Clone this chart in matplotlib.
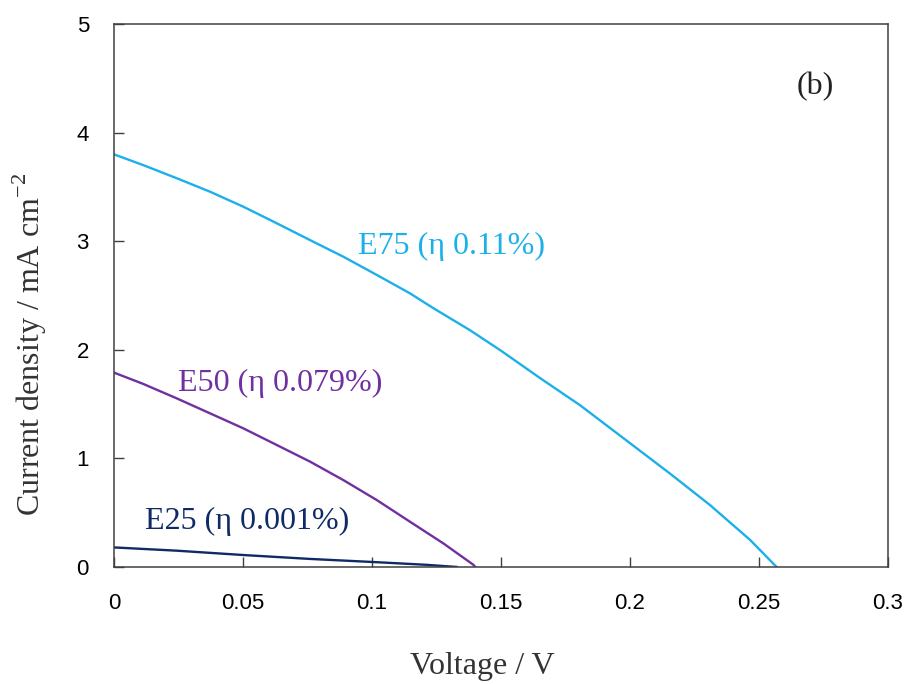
import matplotlib
matplotlib.use("Agg")
import matplotlib.pyplot as plt

# J-V curves (V in volts, J in mA cm^-2)
V_E75 = [0.0, 0.0114, 0.0243, 0.0372, 0.0501, 0.0631, 0.076, 0.0889, 0.1018,
         0.1147, 0.1240, 0.138, 0.1496, 0.1651, 0.1806, 0.2, 0.2155, 0.231,
         0.2465, 0.2568]
J_E75 = [3.80, 3.70, 3.58, 3.456, 3.318, 3.165, 3.01, 2.857, 2.69,
         2.52, 2.38, 2.18, 1.998, 1.74, 1.49, 1.14, 0.86, 0.57,
         0.25, 0.0]

V_E50 = [0.0, 0.0114, 0.0243, 0.0372, 0.0501, 0.0631, 0.076, 0.0889, 0.1018,
         0.1147, 0.1276, 0.1393, 0.1400]
J_E50 = [1.79, 1.685, 1.553, 1.415, 1.277, 1.123, 0.97, 0.80, 0.617,
         0.417, 0.218, 0.02, 0.0]

V_E25 = [0.0, 0.0243, 0.0501, 0.076, 0.1018, 0.121, 0.1328]
J_E25 = [0.18, 0.15, 0.11, 0.074, 0.044, 0.02, 0.0]

LABELS = ["E75 (η 0.11%)", "E50 (η 0.079%)", "E25 (η 0.001%)"]
COLORS = ["#1cb0ea", "#7030a0", "#0f2a66"]

SERIF = "Liberation Serif"
SANS = "Liberation Sans"
FS = 23

fig = plt.figure(figsize=(9.11, 6.84), dpi=100)
ax = fig.add_axes([0.1251, 0.1711, 0.8497, 0.7938])

ax.plot(V_E75, J_E75, color=COLORS[0], lw=1.7)
ax.plot(V_E50, J_E50, color=COLORS[1], lw=1.7)
ax.plot(V_E25, J_E25, color=COLORS[2], lw=1.7)

tkw = dict(fontsize=FS, family=SERIF, va="center", ha="left")
ax.text(0.0946, 2.95, LABELS[0], color=COLORS[0], **tkw)
ax.text(0.0248, 1.69, LABELS[1], color=COLORS[1], **tkw)
ax.text(0.0120, 0.42, LABELS[2], color=COLORS[2], **tkw)
ax.text(0.2718, 4.42, "(b)", color="#222222", fontsize=FS, family=SERIF,
        ha="center", va="center")

ax.set_xlim(0, 0.3)
ax.set_ylim(0, 5)
ax.set_xticks([0, 0.05, 0.1, 0.15, 0.2, 0.25, 0.3])
ax.set_xticklabels(["0", "0.05", "0.1", "0.15", "0.2", "0.25", "0.3"])
ax.set_yticks([0, 1, 2, 3, 4, 5])

for s in ax.spines.values():
    s.set_color("#404040")
    s.set_linewidth(1.1)
ax.tick_params(direction="in", length=7, width=1.0, color="#404040",
               labelsize=16, top=False, right=False)
ax.tick_params(axis="x", pad=19)
ax.tick_params(axis="y", pad=18)
for lab in ax.get_xticklabels() + ax.get_yticklabels():
    lab.set_family(SANS)

ax.set_xlabel("Voltage / V", fontsize=FS, family=SERIF, color="#333333")
ax.xaxis.set_label_coords(0.4755, -0.156)
ax.set_ylabel("Current density / mA cm$^{\\mathregular{-2}}$", fontsize=FS,
              family=SERIF, color="#333333")
ax.yaxis.set_label_coords(-0.084, 0.409)

fig.savefig("out.png", dpi=100)
